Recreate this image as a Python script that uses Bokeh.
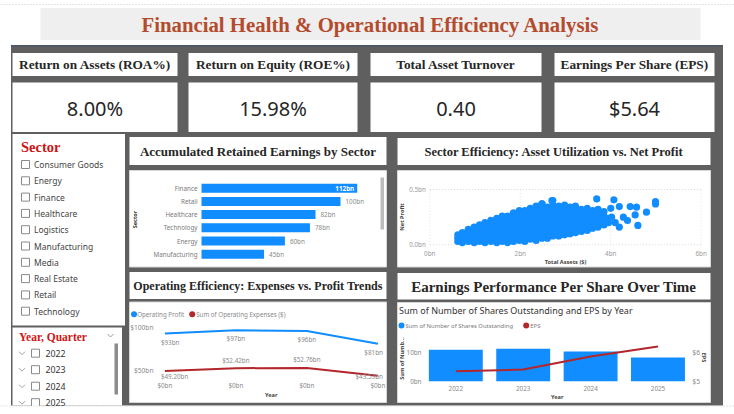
import math
from bokeh.plotting import figure
from bokeh.models import Range1d
from bokeh.core.properties import value
from bokeh.embed import file_html
from bokeh.resources import INLINE

# ---------------- data ----------------
dashboard_title = "Financial Health & Operational Efficiency Analysis"
kpi_titles = ["Return on Assets (ROA%)", "Return on Equity (ROE%)", "Total Asset Turnover", "Earnings Per Share (EPS)"]
kpi_values = ["8.00%", "15.98%", "0.40", "$5.64"]

sector_list = ["Consumer Goods", "Energy", "Finance", "Healthcare", "Logistics",
               "Manufacturing", "Media", "Real Estate", "Retail", "Technology"]
year_list = ["2022", "2023", "2024", "2025"]

re_sectors = ["Finance", "Retail", "Healthcare", "Technology", "Energy", "Manufacturing"]
re_values = [112, 100, 82, 78, 60, 45]  # bn

scatter_assets = [
    0.62, 0.62, 0.62,
    0.72, 0.72, 0.72, 0.72,
    0.85, 0.85, 0.85, 0.85, 0.85,
    0.98, 0.98, 0.98, 0.98, 0.98, 0.98,
    1.10, 1.10, 1.10, 1.10, 1.10, 1.10,
    1.22, 1.22, 1.22, 1.22, 1.22, 1.22, 1.22,
    1.35, 1.35, 1.35, 1.35, 1.35, 1.35,
    1.48, 1.48, 1.48, 1.48, 1.48, 1.48, 1.48,
    1.60, 1.60, 1.60, 1.60, 1.60, 1.60, 1.60,
    1.72, 1.72, 1.72, 1.72, 1.72, 1.72, 1.72,
    1.85, 1.85, 1.85, 1.85, 1.85, 1.85, 1.85, 1.85,
    1.98, 1.98, 1.98, 1.98, 1.98, 1.98, 1.98, 1.98,
    2.10, 2.10, 2.10, 2.10, 2.10, 2.10, 2.10, 2.10,
    2.22, 2.22, 2.22, 2.22, 2.22, 2.22, 2.22, 2.22,
    2.35, 2.35, 2.35, 2.35, 2.35, 2.35, 2.35, 2.35, 2.35,
    2.48, 2.48, 2.48, 2.48, 2.48, 2.48, 2.48, 2.48, 2.48,
    2.60, 2.60, 2.60, 2.60, 2.60, 2.60, 2.60, 2.60,
    2.72, 2.72, 2.72, 2.72, 2.72, 2.72, 2.72, 2.72, 2.72,
    2.85, 2.85, 2.85, 2.85, 2.85, 2.85, 2.85, 2.85,
    2.98, 2.98, 2.98, 2.98, 2.98, 2.98, 2.98, 2.98,
    3.10, 3.10, 3.10, 3.10, 3.10, 3.10, 3.10,
    3.22, 3.22, 3.22, 3.22, 3.22, 3.22, 3.22,
    3.35, 3.35, 3.35, 3.35, 3.35, 3.35,
    3.48, 3.48, 3.48, 3.48, 3.48, 3.48,
    3.60, 3.60, 3.60, 3.60, 3.60,
    3.72, 3.72, 3.72, 3.72, 3.72,
    3.85, 3.85, 3.85, 3.85,
    3.95, 3.95,
    4.07, 4.19, 4.00, 4.43, 4.57, 4.54, 4.79, 4.99, 4.99, 4.60,
    4.19, 4.37, 4.28, 3.69, 2.70, 2.48, 4.02, 4.10,
]
scatter_profit = [
    0.03, 0.06, 0.09,
    0.02, 0.05, 0.08, 0.11,
    0.03, 0.06, 0.09, 0.12, 0.14,
    0.02, 0.05, 0.08, 0.11, 0.14, 0.16,
    0.03, 0.06, 0.09, 0.12, 0.15, 0.18,
    0.02, 0.05, 0.08, 0.11, 0.14, 0.17, 0.20,
    0.03, 0.06, 0.10, 0.14, 0.18, 0.22,
    0.02, 0.05, 0.09, 0.13, 0.17, 0.21, 0.24,
    0.03, 0.07, 0.11, 0.15, 0.19, 0.23, 0.26,
    0.02, 0.06, 0.10, 0.14, 0.18, 0.22, 0.26,
    0.03, 0.07, 0.11, 0.15, 0.19, 0.23, 0.27, 0.29,
    0.04, 0.08, 0.12, 0.16, 0.20, 0.24, 0.28, 0.31,
    0.03, 0.07, 0.11, 0.15, 0.19, 0.23, 0.27, 0.31,
    0.05, 0.09, 0.13, 0.17, 0.21, 0.25, 0.29, 0.33,
    0.04, 0.08, 0.12, 0.16, 0.20, 0.24, 0.28, 0.32, 0.35,
    0.06, 0.10, 0.14, 0.18, 0.22, 0.26, 0.30, 0.34, 0.37,
    0.06, 0.10, 0.14, 0.18, 0.22, 0.26, 0.30, 0.34,
    0.08, 0.12, 0.16, 0.20, 0.24, 0.28, 0.32, 0.36, 0.40,
    0.08, 0.12, 0.16, 0.20, 0.24, 0.28, 0.32, 0.35,
    0.09, 0.13, 0.17, 0.21, 0.25, 0.29, 0.33, 0.36,
    0.10, 0.14, 0.18, 0.22, 0.26, 0.30, 0.34,
    0.11, 0.15, 0.19, 0.23, 0.27, 0.31, 0.35,
    0.12, 0.16, 0.20, 0.24, 0.28, 0.32,
    0.13, 0.17, 0.21, 0.25, 0.29, 0.33,
    0.15, 0.19, 0.23, 0.27, 0.31,
    0.16, 0.20, 0.24, 0.28, 0.32,
    0.18, 0.22, 0.26, 0.30,
    0.20, 0.24,
    0.407, 0.346, 0.33, 0.346, 0.34, 0.27, 0.295, 0.39, 0.37, 0.175,
    0.16, 0.22, 0.25, 0.415, 0.40, 0.37, 0.25, 0.20,
]
scatter_x_ticks = [0, 2, 4, 6]
scatter_x_labels = ["0bn", "2bn", "4bn", "6bn"]
scatter_y_ticks = [0.0, 0.5]
scatter_y_labels = ["0.0bn", "0.5bn"]

years = ["2022", "2023", "2024", "2025"]
op_profit = [93, 97, 96, 81]                       # bn
op_profit_labels = ["$93bn", "$97bn", "$96bn", "$81bn"]
op_expenses = [49.20, 52.42, 52.76, 43.53]         # bn
op_expenses_labels = ["$49.20bn", "$52.42bn", "$52.76bn", "$43.53bn"]
op_y_ticks = [50, 100]
op_y_labels = ["$50bn", "$100bn"]
op_x_labels = ["$0bn", "$0bn", "$0bn", "$0bn"]

shares_out = [11.06, 11.40, 10.45, 8.35]           # bn
eps = [5.35, 5.41, 5.87, 6.22]
shares_ticks = [0, 10]
shares_tick_labels = ["0bn", "10bn"]
eps_ticks = [5, 6]
eps_tick_labels = ["$5", "$6"]

# ---------------- styles ----------------
BLUE = "#118DFF"
RED = "#B3262C"
DARK = "#5f5f5f"
SERIF = "Liberation Serif"
SANS = "Noto Sans"
SMALL = 6.3
AXT = 5.6

p = figure(width=734, height=414, x_range=Range1d(0, 734), y_range=Range1d(414, 0),
           x_axis_type=None, y_axis_type=None, output_backend="svg",
           toolbar_location=None, min_border=0)
p.outline_line_color = None
p.background_fill_color = "white"
p.border_fill_color = "white"


def txt(target, x, y, s, size, color="#222222", font=SANS, style="normal",
        align="center", baseline="middle", angle=0.0, **kw):
    target.text(x=x, y=y, text=s, text_font=value(font), text_font_size=f"{size}px",
                text_font_style=style, text_color=color, text_align=align,
                text_baseline=baseline, angle=angle, **kw)


def box(l, r, t, b, fill="white", line=None, lw=1):
    p.quad(left=l, right=r, top=t, bottom=b, fill_color=fill,
           line_color=line, line_width=lw)


# page decorations
p.line(x=[0, 734], y=[4, 4], line_color="#c8c8c8", line_dash="1 2", line_width=1)
box([40], [700], [7.5], [39.5], fill="#efefef")
txt(p, [370], [23.5], [dashboard_title], 20.8, color="#b44b2d", font=SERIF, style="bold")

# dark panel
box([10.5], [722.5], [44.5], [405], fill=DARK)
p.line(x=[10.5, 722.5], y=[45.2, 45.2], line_color="#4a5866", line_width=1.5)

# KPI cards
kl = [12, 188, 370, 554]
kr = [177, 357, 541, 714]
box(kl, kr, [52.5] * 4, [75.5] * 4)
box(kl, kr, [82] * 4, [131.5] * 4)
kc = [(a + b) / 2 for a, b in zip(kl, kr)]
txt(p, kc, [64] * 4, kpi_titles, 13.3, color="#262626", font=SERIF, style="bold")
txt(p, kc, [108] * 4, kpi_values, 20, color="#252525")

# Sector slicer
box([12], [124.5], [133.5], [325])
txt(p, [20.5], [146.5], ["Sector"], 14.5, color="#cc1414", font=SERIF, style="bold", align="left")
sy = [164 + i * 16.3 for i in range(len(sector_list))]
p.quad(left=[21] * len(sy), right=[29] * len(sy), top=[y - 4 for y in sy], bottom=[y + 4 for y in sy],
       fill_color="white", line_color="#8a8a8a", line_width=1)
txt(p, [33.5] * len(sy), sy, sector_list, 8.5, color="#444444", align="left")

# Year slicer
box([12], [121.5], [327], [405])
txt(p, [18.5], [336.5], ["Year, Quarter"], 11.5, color="#d01515", font=SERIF, style="bold", align="left")
p.line(x=[107, 110, 113], y=[333.5, 336.5, 333.5], line_color="#9a9a9a", line_width=1)
yy = [352.7 + i * 16.5 for i in range(len(year_list))]
p.multi_line(xs=[[18.5, 21.5, 24.5] for _ in yy], ys=[[y - 1.5, y + 1.5, y - 1.5] for y in yy],
             line_color="#a0a0a0", line_width=1)
p.quad(left=[31] * len(yy), right=[39] * len(yy), top=[y - 4 for y in yy], bottom=[y + 4 for y in yy],
       fill_color="white", line_color="#8a8a8a", line_width=1)
txt(p, [45] * len(yy), yy, year_list, 8.8, color="#333333", align="left")
box([114], [117.5], [343], [394], fill="#8c8c8c")

# chart containers
box([129, 397], [386, 710], [136.5, 137.5], [164.5, 164.5])
box([129, 397], [386, 710], [170, 170], [266.5, 266.5], line="#d8d8d8")
box([129, 397], [386, 710], [271.5, 272.5], [298.5, 299])
box([129, 397], [386, 710], [301.5, 302], [402, 402], line="#d8d8d8")
txt(p, [257.5], [150.5], ["Accumulated Retained Earnings by Sector"], 13, color="#262626", font=SERIF, style="bold")
txt(p, [553.5], [151], ["Sector Efficiency: Asset Utilization vs. Net Profit"], 12.5, color="#262626", font=SERIF, style="bold")
txt(p, [257.5], [285], ["Operating Efficiency: Expenses vs. Profit Trends"], 12, color="#262626", font=SERIF, style="bold")
txt(p, [553.5], [286], ["Earnings Performance Per Share Over Time"], 15, color="#262626", font=SERIF, style="bold")

# ---------- chart 1: retained earnings hbar ----------
idx1 = list(range(len(re_sectors)))
s1 = p.subplot(x_source=Range1d(0, 112), y_source=Range1d(0, 5),
               x_target=Range1d(201, 356.7), y_target=Range1d(187.7, 253.7))
s1.hbar(y=idx1, left=0, right=re_values, height=0.68, fill_color=BLUE, line_color=None)
txt(s1, [0] * len(idx1), idx1, re_sectors, SMALL, color="#7a7a7a", align="right", x_offset=-4)
inside = [i for i, v in enumerate(re_values) if v > 105]
outside = [i for i, v in enumerate(re_values) if v <= 105]
txt(s1, [re_values[i] for i in inside], inside, [f"{re_values[i]}bn" for i in inside], SMALL,
    color="white", style="bold", align="right", x_offset=-3)
txt(s1, [re_values[i] for i in outside], outside, [f"{re_values[i]}bn" for i in outside], SMALL,
    color="#8a8a8a", align="left", x_offset=5)
txt(p, [134.5], [219], ["Sector"], AXT, color="#333333", style="bold", angle=math.pi / 2)
box([380], [383.5], [177], [229], fill="#bdbdbd")

# ---------- chart 2: scatter ----------
s2 = p.subplot(x_source=Range1d(0, 6), y_source=Range1d(0, 0.5),
               x_target=Range1d(429.3, 700.7), y_target=Range1d(244.3, 189))
s2.multi_line(xs=[[0, 6] for _ in scatter_y_ticks], ys=[[t, t] for t in scatter_y_ticks],
              line_color="#d6d6d6", line_dash="1 2", line_width=1)
s2.multi_line(xs=[[t, t] for t in scatter_x_ticks], ys=[[0, 0.5] for _ in scatter_x_ticks],
              line_color="#e2e2e2", line_dash="1 2", line_width=1)
s2.scatter(x=scatter_assets, y=scatter_profit, size=7.2, fill_color=BLUE, line_color=None)
txt(s2, [0] * 2, scatter_y_ticks, scatter_y_labels, SMALL, color="#9a9a9a", align="right", x_offset=-4)
txt(s2, scatter_x_ticks, [0] * 4, scatter_x_labels, SMALL, color="#9a9a9a", y_offset=8.5)
txt(p, [565], [261], ["Total Assets ($)"], AXT, color="#444444", style="bold")
txt(p, [401.5], [216.5], ["Net Profit"], AXT, color="#444444", style="bold", angle=math.pi / 2)

# ---------- chart 3: operating lines ----------
idx3 = list(range(len(years)))
s3 = p.subplot(x_source=Range1d(-0.09, 3.1), y_source=Range1d(38, 105),
               x_target=Range1d(158, 384.5), y_target=Range1d(380, 322.85))
s3.line(x=idx3, y=op_profit, line_color=BLUE, line_width=2)
s3.line(x=idx3, y=op_expenses, line_color=RED, line_width=2)
txt(s3, [-0.09] * 2, op_y_ticks, op_y_labels, 6.6, color="#8a8a8a", align="right", x_offset=-5)
txt(s3, idx3, [38] * 4, op_x_labels, SMALL, color="#8a8a8a", y_offset=5.3)
prof_align = ["left", "center", "center", "right"]
prof_dx = [-4, 0, 0, 5]
exp_dy = [6, -8, -8, 1]
for i in idx3:
    txt(s3, [i], [op_profit[i]], [op_profit_labels[i]], SMALL, color="#8a8a8a",
        align=prof_align[i], x_offset=prof_dx[i], y_offset=8.5)
    txt(s3, [i], [op_expenses[i]], [op_expenses_labels[i]], SMALL, color="#8a8a8a",
        align=prof_align[i], x_offset=prof_dx[i], y_offset=exp_dy[i])
p.scatter(x=[133.5, 191.7], y=[313.7, 313.7], size=6, fill_color=[BLUE, RED], line_color=None)
txt(p, [136.7, 195.7], [313.7, 313.7], ["Operating Profit", "Sum of Operating Expenses ($)"], 6.2,
    color="#8a8a8a", align="left")
txt(p, [270.7], [394.7], ["Year"], AXT, color="#444444", style="bold")

# ---------- chart 4: shares + EPS ----------
s4 = p.subplot(x_source=Range1d(-0.45, 3.45), y_source=Range1d(0, 14),
               x_target=Range1d(425, 687.8), y_target=Range1d(380.7, 340.94))
s4e = p.subplot(x_source=Range1d(-0.45, 3.45), y_source=Range1d(5, 6.4),
                x_target=Range1d(425, 687.8), y_target=Range1d(380.7, 340.94))
s4.vbar(x=idx3, top=shares_out, bottom=0, width=0.8, fill_color=BLUE, line_color=None)
s4e.line(x=idx3, y=eps, line_color=RED, line_width=2)
txt(s4, [-0.45] * 2, shares_ticks, shares_tick_labels, SMALL, color="#8a8a8a", align="right", x_offset=-4)
txt(s4e, [3.45] * 2, eps_ticks, eps_tick_labels, 6.8, color="#8a8a8a", align="left", x_offset=4)
txt(s4, idx3, [0] * 4, years, SMALL, color="#8a8a8a", y_offset=7)
txt(p, [398.5], [310], ["Sum of Number of Shares Outstanding and EPS by Year"], 9, color="#333333", align="left")
p.scatter(x=[401, 525.7], y=[325, 325], size=6, fill_color=[BLUE, RED], line_color=None)
txt(p, [405, 529.8], [325, 325], ["Sum of Number of Shares Outstanding", "EPS"], 5.9, color="#7a7a7a", align="left")
txt(p, [556.7], [396.7], ["Year"], AXT, color="#444444", style="bold")
txt(p, [401.5], [358], ["Sum of Numb..."], AXT, color="#444444", style="bold", angle=math.pi / 2)
txt(p, [703], [357], ["EPS"], AXT, color="#444444", style="bold", angle=-math.pi / 2)

# bottom strip
box([0], [734], [405.5], [414], fill="white")
p.line(x=[0, 734], y=[405.5, 405.5], line_color="#c8c8c8", line_dash="1 2", line_width=1)

open("out.html", "w").write(file_html(p, INLINE))
